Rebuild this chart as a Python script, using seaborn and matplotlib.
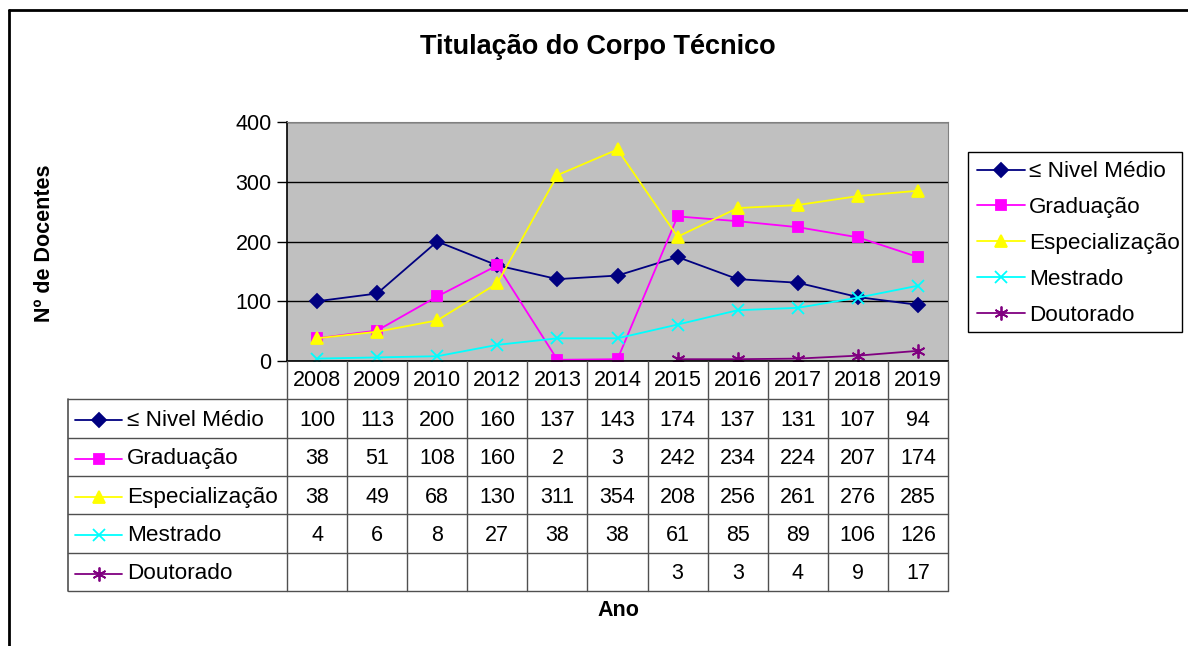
import matplotlib.pyplot as plt
import matplotlib.lines as mlines
import matplotlib.patches as mpatches
import numpy as np
import seaborn as sns

years = ['2008', '2009', '2010', '2012', '2013', '2014', '2015', '2016', '2017', '2018', '2019']
series = ['≤ Nivel Médio', 'Graduação', 'Especialização', 'Mestrado', 'Doutorado']
nivel_medio = [100, 113, 200, 160, 137, 143, 174, 137, 131, 107, 94]
graduacao = [38, 51, 108, 160, 2, 3, 242, 234, 224, 207, 174]
especializacao = [38, 49, 68, 130, 311, 354, 208, 256, 261, 276, 285]
mestrado = [4, 6, 8, 27, 38, 38, 61, 85, 89, 106, 126]
doutorado = [np.nan] * 6 + [3, 3, 4, 9, 17]
values = [nivel_medio, graduacao, especializacao, mestrado, doutorado]

colors = ['#000080', '#FF00FF', '#FFFF00', '#00FFFF', '#800080']
markers = ['D', 's', '^', 'x', (6, 2, 0)]
msizes = [7, 6.5, 8.5, 8, 10]

sns.set_style('white')
plt.rcParams['font.family'] = ['Liberation Sans', 'DejaVu Sans']
plt.rcParams['text.color'] = 'black'
plt.rcParams['ytick.color'] = 'black'
plt.rcParams['axes.labelcolor'] = 'black'

W, H = 1188, 646
fig = plt.figure(figsize=(W / 100, H / 100), dpi=100)


def box(l, t, r, b):
    # pixel box -> figure fraction rect
    return [l / W, 1 - b / H, (r - l) / W, (b - t) / H]


# outer chart border (only left and top visible in the crop)
fig.add_artist(mlines.Line2D([9 / W, 9 / W], [0, 1 - 10 / H], transform=fig.transFigure, color='black', lw=2))
fig.add_artist(mlines.Line2D([9 / W, 1], [1 - 10 / H, 1 - 10 / H], transform=fig.transFigure, color='black', lw=2))

# main plot
ax = fig.add_axes(box(287, 122, 948, 361))
x = np.arange(len(years))
handles = []
for vals, name, c, m, ms in zip(values, series, colors, markers, msizes):
    sns.lineplot(x=x, y=vals, color=c, marker=m, markersize=ms, markeredgecolor=c,
                 markerfacecolor=c, markeredgewidth=1.3, linewidth=1.3, ax=ax, legend=False)
    handles.append(mlines.Line2D([], [], color=c, marker=m, markersize=ms, markeredgecolor=c,
                                 markerfacecolor=c, markeredgewidth=1.3, linewidth=1.3, label=name))

ax.set_facecolor('#C0C0C0')
ax.set_xlim(-0.5, len(years) - 0.5)
ax.set_ylim(0, 400)
ax.set_yticks(np.arange(0, 401, 100))
ax.set_xticks([])
ax.yaxis.grid(True, color='black', linewidth=1)
ax.set_axisbelow(True)
ax.tick_params(axis='y', direction='out', length=7, width=1, labelsize=15.5, pad=4, left=True,
               colors='black')
for s in ['top', 'right']:
    ax.spines[s].set_color('#808080')
for s in ['left', 'bottom']:
    ax.spines[s].set_color('black')
    ax.spines[s].set_linewidth(1.2)

# data table
col_w = (948 - 287) / len(years)
label_w = (287 - 68) / col_w
tax = fig.add_axes(box(68, 361, 948, 591))
x_left = -0.5 - label_w
tax.set_xlim(x_left, len(years) - 0.5)
tax.set_ylim(6, 0)
tax.axis('off')

lc = '#505050'
for k in range(len(years) + 1):
    tax.plot([k - 0.5, k - 0.5], [0, 6], color=lc, lw=1, clip_on=False)
tax.plot([x_left, x_left], [1, 6], color=lc, lw=1.2, clip_on=False)
for r in range(1, 7):
    tax.plot([x_left, len(years) - 0.5], [r, r], color=lc, lw=1, clip_on=False)

for j, yr in enumerate(years):
    tax.text(j, 0.5, yr, ha='center', va='center', fontsize=15.5)

for i, (vals, name, c, m, ms) in enumerate(zip(values, series, colors, markers, msizes)):
    yrow = i + 1.55
    tax.plot([x_left + 7 / col_w, x_left + 54 / col_w], [yrow, yrow], color=c, lw=1.3, clip_on=False)
    tax.plot([x_left + 30.5 / col_w], [yrow], marker=m, markersize=ms, color=c,
             markeredgecolor=c, markeredgewidth=1.3, clip_on=False)
    tax.text(x_left + 59 / col_w, yrow, name, ha='left', va='center', fontsize=16.2)
    for j, v in enumerate(vals):
        if not np.isnan(v):
            tax.text(j, yrow, f'{int(v)}', ha='center', va='center', fontsize=15.5)

# legend box on the right (frame drawn separately)
fig.add_artist(mpatches.Rectangle((968 / W, 1 - 332 / H), (1182 - 968) / W, (332 - 152) / H,
                                  transform=fig.transFigure, fill=False, edgecolor='black', lw=1))
fig.legend(handles=handles, loc='upper left', bbox_to_anchor=(968 / W, 1 - 152 / H),
           frameon=False, fontsize=16.2,
           labelspacing=0.66, handlelength=2.1, handletextpad=0.2, borderpad=0.42,
           borderaxespad=0)

# titles
fig.text(598 / W, 1 - 47 / H, 'Titulação do Corpo Técnico', ha='center', va='center',
         fontsize=19.5, fontweight='bold')
fig.text(45 / W, 1 - 243 / H, 'Nº de Docentes', ha='center', va='center', rotation=90,
         fontsize=15.5, fontweight='bold')
fig.text(618 / W, 1 - 610 / H, 'Ano', ha='center', va='center', fontsize=15.5, fontweight='bold')

fig.savefig('out.png', dpi=100)
